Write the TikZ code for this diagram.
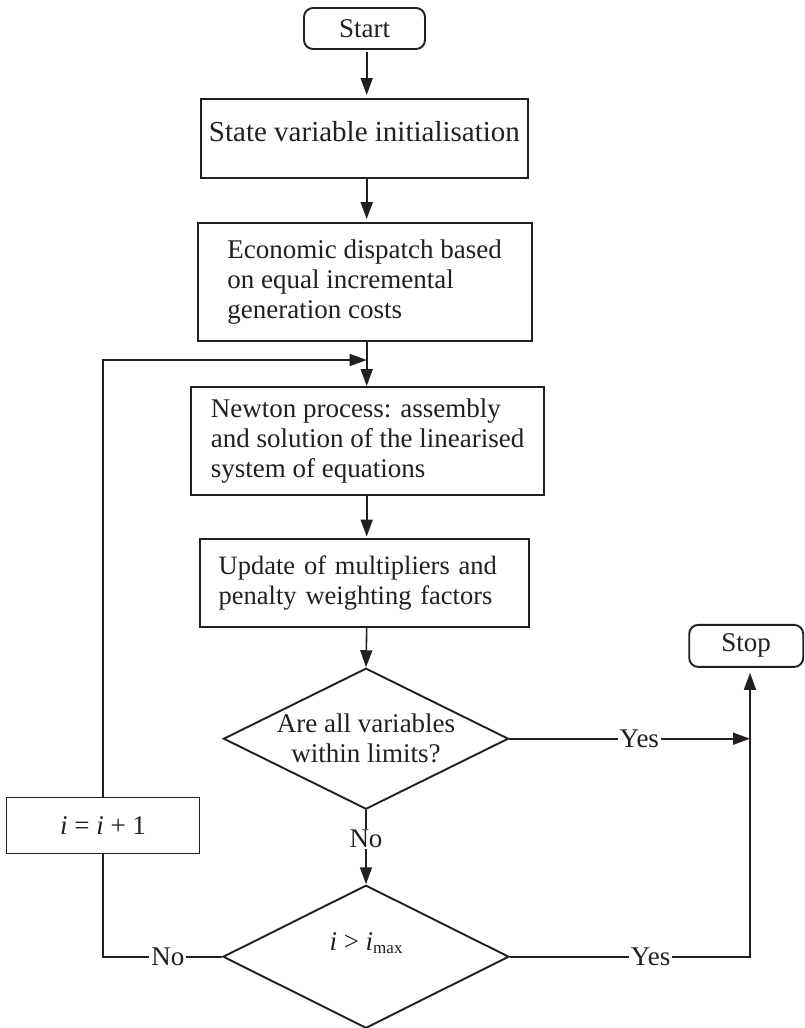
\documentclass[tikz,border=0pt]{standalone}
\usepackage{fontspec}
\setmainfont{Liberation Serif}
\usetikzlibrary{arrows.meta,shapes.geometric}
\definecolor{ink}{HTML}{231F20}
\begin{document}
\begin{tikzpicture}[x=1pt,y=-1pt,
  every node/.style={font=\fontsize{27}{30}\selectfont, text=ink},
  procbox/.style={draw=ink, line width=1.9pt, rectangle, inner sep=0pt, align=left},
  termbox/.style={draw=ink, line width=1.9pt, rectangle, rounded corners=9pt, inner sep=0pt},
  decision/.style={draw=ink, line width=1.9pt, diamond, aspect=2, inner sep=0pt, align=center},
  flow/.style={draw=ink, line width=1.6pt},
  arr/.style={flow, -{Triangle[length=17pt,width=12pt]}},
  lbl/.style={fill=white, inner xsep=2pt, inner ysep=1pt}
]
\useasboundingbox (0,0) rectangle (804,1028);
\fill[white] (0,0) rectangle (804,1028);

% guide coordinates for the main column, the loop and the exit line
\coordinate (col) at (366.7,0);
\coordinate (loopy) at (366.7,360);
\coordinate (stopx) at (750,0);

% terminals
\node[termbox, minimum width=121pt, minimum height=41pt] (start) at (364.5,28.5) {Start};
\node[termbox, minimum width=114pt, minimum height=42pt] (stop) at (746.2,645.9) {Stop};

% process steps
\node[procbox, minimum width=327pt, minimum height=79pt, text height=19.5pt, text depth=13pt,
      font=\fontsize{29}{32}\selectfont]
  (init) at (364.4,138.5) {State variable initialisation};
\node[procbox, minimum width=334pt, minimum height=118pt]
  (econ) at (364.7,282) {Economic dispatch based\\on equal incremental\\generation costs};
\node[procbox, minimum width=353pt, minimum height=108pt]
  (newton) at (367.5,441) {Newton process: assembly\\and solution of the linearised\\system of equations};
\node[procbox, minimum width=329pt, minimum height=88pt, text width=292pt,
      font=\fontsize{26.5}{30}\selectfont]
  (update) at (364.7,583) {Update of multipliers and\\penalty weighting factors};
\node[procbox, minimum width=193pt, minimum height=56pt, align=center]
  (inc) at (103,825.5) {\textit{i} = \textit{i} + 1};

% decisions
\node[decision, minimum width=285pt, minimum height=141pt]
  (d1) at (366,738.7) {Are all variables\\within limits?};
\node[decision, minimum width=286pt, minimum height=143pt]
  (d2) at (366,956.7) {};
\node[anchor=base, inner sep=0pt] (d2txt) at (366,950)
  {\textit{i} > \textit{i}\raisebox{-3pt}{\fontsize{17}{17}\selectfont max}};

% main flow
\draw[arr, shorten <=2.5pt, shorten >=3pt] (start.south -| col) -- (init.north -| col);
\draw[arr, shorten <=0pt, shorten >=3pt] (init.south -| col) -- (econ.north -| col);
\draw[arr] (econ.south -| col) -- (newton.north -| col);
\draw[arr, shorten >=1.5pt] (newton.south -| col) -- (update.north -| col);
\draw[arr] (update.south -| col) -- (d1.north);
\draw[arr] (d1.south) -- node[lbl, pos=0.39] {No} (d2.north);

% exits to Stop
\draw[arr] (d1.east) -- node[lbl, pos=0.54] {Yes} (d1.east -| stopx);
\draw[arr, shorten >=5pt] (d2.east) -- node[lbl, pos=0.586] {Yes} (d2.east -| stopx) -- (stop.south -| stopx);

% iteration loop
\draw[flow] (d2.west) -- node[lbl, pos=0.456] {No} (d2.west -| inc.south) -- (inc.south);
\draw[arr] (inc.north) -- (inc.north |- loopy) -- (loopy);
\end{tikzpicture}
\end{document}
